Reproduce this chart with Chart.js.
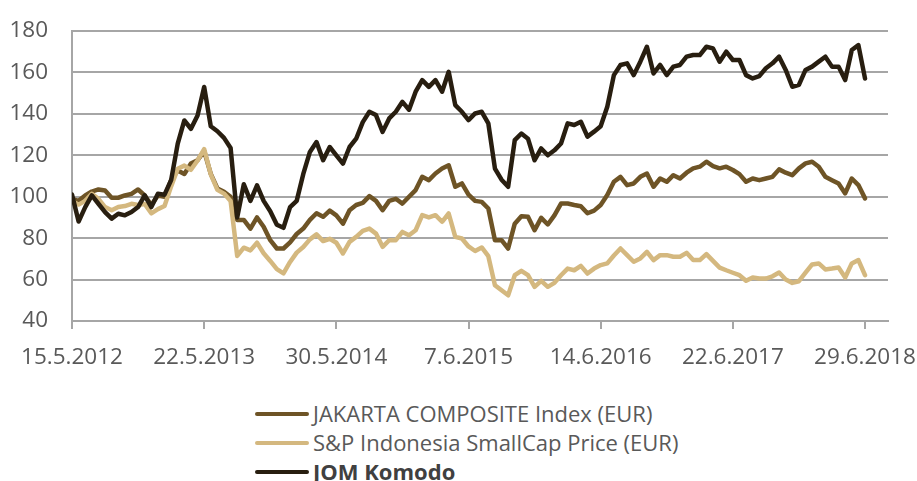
<!DOCTYPE html>
<html>
<head>
<meta charset="utf-8">
<script src="https://cdn.jsdelivr.net/npm/chart.js@4.4.1/dist/chart.umd.min.js"></script>
<style>
  html, body { margin: 0; padding: 0; background: #ffffff; overflow: hidden; }
  #wrap { position: relative; width: 917px; height: 481px; }
  #c { position: absolute; left: 0; top: 0; }
  #legend { position: absolute; left: 255px; top: 399px; font-family: "Open Sans", sans-serif; font-size: 22px; color: #595959; }
  .item { height: 29px; line-height: 29px; white-space: nowrap; display: flex; align-items: center; }
  .swatch { display: inline-block; width: 54px; height: 4px; border-radius: 2px; margin-right: 4px; }
</style>
</head>
<body>
<div id="wrap">
  <canvas id="c" width="917" height="381"></canvas>
  <div id="legend"></div>
</div>
<script>
// Tick labels (dates), one every 20 data points
const tickLabels = ['15.5.2012', '22.5.2013', '30.5.2014', '7.6.2015', '14.6.2016', '22.6.2017', '29.6.2018'];
const pointsPerTick = 20;

const seriesNames = ['JAKARTA COMPOSITE Index (EUR)', 'S&P Indonesia SmallCap Price (EUR)', 'JOM Komodo'];

const jakarta = [
  99, 98, 100.6, 102.5, 103.5, 103, 99.5, 99.5, 100.6, 101.4, 103.5, 100.6, 96, 100.6, 100, 108, 112.7, 111, 116, 117.6,
  122, 111, 104, 102.4, 100, 88.8, 88.8, 84.6, 90, 85.5, 79, 75, 75, 78, 82, 84.6, 88.8, 92, 90.3, 93.3,
  91, 87, 93.5, 96, 97, 100.3, 98, 93.5, 98, 99, 96.7, 100, 103.2, 109.6, 108, 111.2, 113.6, 115.2, 104.8, 106.4,
  101, 98, 97.5, 94.3, 79, 79, 75, 87, 90.6, 90.3, 83.8, 89.8, 86.6, 91, 96.7, 96.7, 96, 95.4, 92, 93.3,
  96, 100.8, 107.2, 109.6, 105.6, 106.4, 109.6, 111.2, 104.8, 108.8, 107.2, 110.4, 108.8, 111.6, 113.7, 114.5, 116.9, 114.8, 113.7, 114.5,
  112.9, 110.9, 107.2, 108.8, 108, 108.8, 109.6, 113.2, 111.6, 110.4, 113.7, 116.1, 116.9, 114.5, 109.6, 108, 106.4, 101.6, 108.8, 105.6,
  99.2
];

const smallCap = [
  98, 96.2, 98, 101.4, 99, 95, 93.5, 95, 95.5, 96.6, 96, 96.5, 92, 94, 95.5, 105, 113.5, 115, 113, 117.5,
  123, 110.8, 103.3, 101.5, 97.9, 71.4, 75.4, 74.1, 77.8, 72.7, 69, 65, 63, 68.5, 73, 75.7, 79.4, 81.8, 78.6, 79.7,
  77.8, 72.6, 78.2, 80.6, 83.5, 84.6, 82.2, 75.8, 79, 79, 83, 81.4, 83.8, 91.1, 90, 91.1, 87.9, 91.9, 80.6, 79.8,
  76, 73.8, 75.5, 71.3, 57.3, 54.8, 52.4, 62.1, 64.2, 62.1, 56.5, 59.4, 56.5, 58.4, 62.1, 65.3, 64.5, 66.6, 62.9, 65.3,
  67, 67.8, 71.6, 75, 71.8, 68.6, 70.2, 73.4, 69.4, 71.8, 71.8, 71, 71, 72.9, 69.4, 69.4, 72.3, 69, 65.8, 64.5,
  63.3, 62.1, 59.4, 61, 60.5, 60.5, 61.6, 63.4, 60, 58.4, 59.2, 63.3, 67.3, 67.8, 64.9, 65.3, 65.8, 61, 67.8, 69.4,
  62.1
];

const jom = [
  101, 88, 95, 100.6, 96.6, 92.6, 89.4, 91.8, 91, 92.6, 95, 100.6, 95, 101.4, 101, 108, 125.6, 136.8, 132.8, 139.2,
  153, 134, 131.6, 128.4, 123.5, 90, 106, 98, 105.5, 98, 93, 86.5, 85, 95, 98, 111, 121.6, 126.4, 117.6, 124,
  120, 116, 124, 128, 136, 141, 139.4, 131.3, 137.8, 141, 145.8, 142, 150.7, 156.3, 153, 156.3, 150.7, 160.3, 144.2, 141,
  137, 140.2, 141, 135.4, 113.6, 108.2, 104.8, 127.3, 130.5, 128, 117.6, 123.3, 120, 122.4, 125.7, 135.4, 134.6, 136.2, 129, 131.4,
  134, 143.4, 158.7, 163.6, 164.4, 158.7, 165.2, 172.4, 159.5, 163.6, 158.7, 162.8, 163.6, 167.6, 168.4, 168.4, 172.4, 171.6, 165.2, 170,
  166, 166, 158.7, 157.1, 158.2, 162, 164.4, 167.6, 161.2, 153.1, 154, 161.2, 162.8, 165.2, 167.6, 162.8, 162.8, 156.3, 170.8, 173.2,
  157.1
];

const colors = ['#6e5426', '#d4b87f', '#281e10'];
const series = [jakarta, smallCap, jom];
const drawOrder = [2, 1, 0];

const datasets = series.map((vals, k) => ({
  label: seriesNames[k],
  data: vals.map((v, i) => ({ x: i, y: v })),
  borderColor: colors[k],
  backgroundColor: colors[k],
  borderWidth: 4.5,
  pointRadius: 0,
  tension: 0,
  borderJoinStyle: 'round',
  borderCapStyle: 'round',
  order: drawOrder[k]
}));

const lastIndex = jom.length - 1;
const axisFont = { family: 'Open Sans', size: 22.5 };
const gridColor = '#a6a6a6';

new Chart(document.getElementById('c'), {
  type: 'line',
  data: { datasets },
  options: {
    responsive: false,
    animation: false,
    devicePixelRatio: 1,
    layout: { padding: { top: 31, right: 29, bottom: 0, left: 0 } },
    plugins: { legend: { display: false }, tooltip: { enabled: false } },
    scales: {
      x: {
        type: 'linear',
        min: 0,
        max: lastIndex * 1.029,
        ticks: {
          stepSize: pointsPerTick,
          includeBounds: false,
          autoSkip: false,
          maxRotation: 0,
          minRotation: 0,
          padding: 15,
          font: axisFont,
          color: '#595959',
          callback: v => tickLabels[Math.round(v / pointsPerTick)] ?? ''
        },
        grid: { drawOnChartArea: false, drawTicks: true, tickLength: 8, color: gridColor, lineWidth: 2 },
        border: { display: true, color: gridColor, width: 2 },
        afterFit: s => { s.height = 60; s.paddingLeft = 0; s.paddingRight = 0; }
      },
      y: {
        min: 40,
        max: 180,
        ticks: { stepSize: 20, padding: 24, font: axisFont, color: '#595959' },
        grid: { color: gridColor, lineWidth: 2, drawTicks: false },
        border: { display: true, color: gridColor, width: 2 },
        afterFit: s => { s.width = 72; s.paddingTop = 0; s.paddingBottom = 0; }
      }
    }
  }
});

// Legend (real text), built from the series names and colours
const legend = document.getElementById('legend');
seriesNames.forEach((name, k) => {
  const row = document.createElement('div');
  row.className = 'item';
  const sw = document.createElement('span');
  sw.className = 'swatch';
  sw.style.background = colors[k];
  const tx = document.createElement('span');
  tx.textContent = name;
  if (k === 2) { tx.style.fontWeight = 'bold'; tx.style.color = '#404040'; }
  row.appendChild(sw);
  row.appendChild(tx);
  legend.appendChild(row);
});
</script>
</body>
</html>
